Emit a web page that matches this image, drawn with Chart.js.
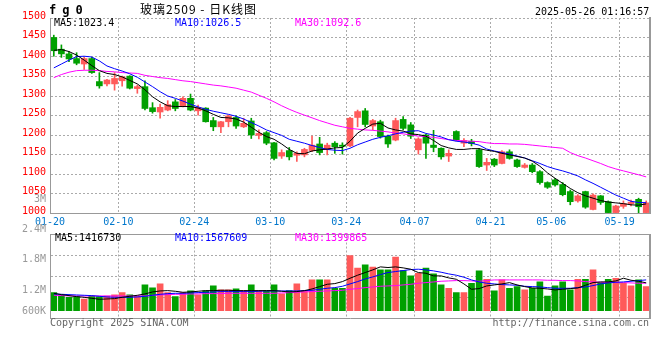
<!DOCTYPE html>
<html><head><meta charset="utf-8">
<script src="https://cdn.jsdelivr.net/npm/chart.js@4.4.1/dist/chart.umd.min.js"></script>
<style>
html,body{margin:0;padding:0;background:#fff;}
#wrap{position:relative;width:660px;height:360px;overflow:hidden;background:#fff;}
canvas{position:absolute;left:0;}
.t{position:absolute;white-space:pre;font-family:"DejaVu Sans Mono",monospace;font-size:10px;line-height:10px;color:#000;}
</style></head><body>
<div id="wrap">
<canvas id="main" width="660" height="232" style="top:0"></canvas>
<canvas id="vol" width="660" height="170" style="top:190px"></canvas>
<div class="t" style="left:49px;top:4px;font-weight:bold;font-size:12px;line-height:12px;letter-spacing:-0.6px;">f g 0</div>
<div class="t" style="left:140px;top:3px;font-family:'Noto Sans CJK SC';font-size:12px;line-height:12px;letter-spacing:1px;">玻璃2509 - 日K线图</div>
<div class="t" style="left:535px;top:7px;">2025-05-26 01:16:57</div>
<div class="t" style="left:50px;top:318px;color:#666;">Copyright 2025 SINA.COM</div>
<div class="t" style="right:11px;top:318px;color:#666;">http://finance.sina.com.cn</div>
</div>
<script>
const dates = ['01-20','01-21','01-22','01-23','01-24','01-27','02-05','02-06','02-07','02-10',
'02-11','02-12','02-13','02-14','02-17','02-18','02-19','02-20','02-21','02-24',
'02-25','02-26','02-27','02-28','03-03','03-04','03-05','03-06','03-07','03-10',
'03-11','03-12','03-13','03-14','03-17','03-18','03-19','03-20','03-21','03-24',
'03-25','03-26','03-27','03-28','03-31','04-01','04-02','04-03','04-07','04-08',
'04-09','04-10','04-11','04-14','04-15','04-16','04-17','04-18','04-21','04-22',
'04-23','04-24','04-25','04-28','04-29','04-30','05-06','05-07','05-08','05-09',
'05-12','05-13','05-14','05-15','05-16','05-19','05-20','05-21','05-22'];
const axisDates = ['01-20','02-10','02-24','03-10','03-24','04-07','04-21','05-06','05-19'];
const priceTicks = [1000,1050,1100,1150,1200,1250,1300,1350,1400,1450,1500];
const volTickValues = [3000000,2400000,1800000,1200000,600000];

const open = [1450,1420,1408,1396,1382,1396,1337,1331,1331,1339, 1351,1319,1324,1270,1259,1264,1285,1274,1294,1262,
1269,1237,1221,1234,1245,1221,1236,1199,1206,1180, 1146,1160,1148,1149,1160,1177,1163,1179,1174,1172,
1245,1262,1223,1234,1197,1187,1240,1226,1162,1200, 1174,1166,1146,1209,1179,1184,1162,1123,1138,1127,
1157,1136,1117,1123,1106,1078,1085,1073,1055,1031, 1055,1009,1044,1029,1001,1017,1024,1035,1001];
const high = [1456,1431,1414,1411,1399,1399,1360,1343,1360,1351, 1352,1328,1339,1283,1279,1288,1291,1298,1305,1277,
1270,1245,1235,1251,1249,1243,1243,1213,1209,1181, 1162,1168,1157,1166,1197,1194,1179,1183,1180,1245,
1264,1268,1240,1238,1200,1243,1247,1232,1193,1202, 1212,1167,1162,1211,1191,1189,1166,1140,1140,1160,
1162,1138,1127,1127,1109,1080,1089,1078,1059,1047, 1056,1049,1045,1031,1020,1031,1033,1038,1031];
const low = [1402,1399,1388,1380,1368,1358,1320,1326,1315,1325, 1318,1307,1264,1256,1243,1262,1262,1272,1262,1251,
1233,1211,1206,1221,1217,1219,1191,1190,1175,1136, 1140,1136,1132,1144,1157,1149,1149,1153,1151,1170,
1221,1221,1213,1192,1168,1185,1213,1191,1151,1140, 1157,1138,1132,1185,1170,1172,1117,1109,1119,1126,
1138,1117,1115,1103,1074,1063,1069,1044,1021,1028, 1012,1008,1022,1000,1000,1012,1018,1000,1000];
const close = [1416,1408,1395,1384,1396,1360,1326,1341,1345,1349, 1320,1324,1268,1260,1271,1278,1268,1294,1264,1270,
1234,1221,1234,1249,1223,1230,1200,1204,1179,1140, 1155,1144,1153,1163,1174,1155,1174,1170,1171,1243,
1260,1227,1237,1196,1177,1237,1217,1197,1190,1179, 1168,1144,1153,1187,1186,1178,1119,1130,1123,1157,
1140,1119,1123,1106,1078,1066,1072,1047,1029,1044, 1015,1046,1027,1001,1018,1024,1028,1016,1026];

const ma5 = [1417,1419,1414,1405,1392,1378,1365,1358,1355,1349, 1340,1331,1316,1298,1285,1275,1273,1273,1273,1269,
1262,1253,1245,1244,1241,1233,1220,1207,1196,1189, 1177,1163,1153,1152,1159,1162,1164,1167,1168,1184,
1205,1217,1228,1230,1218,1213,1210,1203,1201,1197, 1186,1173,1167,1163,1163,1165,1165,1161,1158,1153,
1149,1145,1141,1133,1120,1103,1089,1076,1063,1052, 1044,1038,1032,1028,1026,1024,1021,1020,1023.4];
const ma10 = [1372,1382,1392,1401,1402,1400,1390,1377,1370,1364, 1357,1348,1336,1324,1311,1300,1294,1287,1279,1272,
1266,1261,1257,1253,1248,1241,1232,1223,1213,1206, 1199,1189,1184,1179,1173,1168,1163,1161,1160,1166,
1175,1182,1189,1194,1198,1203,1207,1210,1211,1204, 1200,1195,1188,1184,1182,1179,1174,1164,1159,1155,
1151,1146,1141,1134,1127,1119,1113,1108,1102,1095, 1085,1076,1066,1056,1046,1038,1030,1027,1026.5];
const ma30 = [1347,1355,1361,1365,1366,1366,1365,1363,1362,1360, 1359,1358,1353,1350,1347,1345,1342,1339,1337,1334,
1331,1328,1326,1323,1320,1315,1310,1302,1294,1285, 1275,1266,1258,1251,1244,1237,1231,1225,1221,1217,
1215,1213,1212,1210,1208,1205,1203,1200,1197,1196, 1194,1191,1188,1186,1185,1184,1183,1180,1178,1178,
1177,1177,1176,1174,1172,1170,1168,1166,1155,1147, 1141,1134,1127,1119,1113,1108,1103,1098,1092.6];

const volume = [918000,801000,682000,716000,597000,750000,716000,750000,801000,918000,
801000,750000,1311000,1158000,1362000,918000,716000,918000,1005000,801000,
1005000,1260000,1056000,1056000,1107000,1005000,1311000,1005000,1005000,1311000,
852000,1022000,1362000,1022000,1566000,1566000,1566000,1141000,1141000,2806000,
2163000,2332000,2214000,2077000,2077000,2724000,2043000,1771000,1907000,2163000,
1873000,1311000,1141000,920000,920000,1396000,2026000,1600000,1005000,1566000,
1141000,1226000,1056000,1141000,1464000,750000,1260000,1464000,1056000,1600000,
1600000,2077000,1430000,1600000,1651000,1396000,1260000,1566000,1226000];
const volMa5 = [886000,818000,767000,716000,682000,631000,580000,597000,614000,682000,
733000,784000,852000,954000,1005000,1022000,988000,937000,954000,988000,
1022000,1022000,1039000,1039000,1022000,1022000,1022000,1022000,1022000,1022000,
988000,954000,971000,1022000,1107000,1226000,1345000,1379000,1481000,1651000,
1805000,1941000,2077000,2230000,2196000,2230000,2179000,2111000,1941000,1907000,
1771000,1771000,1669000,1600000,1362000,1090000,1124000,1260000,1311000,1362000,
1430000,1311000,1226000,1158000,1141000,1107000,1056000,1090000,1124000,1158000,
1294000,1430000,1464000,1464000,1515000,1651000,1550000,1498000,1416730];
const volMa10 = [852000,835000,818000,801000,784000,767000,733000,699000,682000,682000,
682000,699000,733000,784000,835000,869000,886000,886000,903000,920000,
937000,954000,971000,971000,971000,971000,971000,988000,1005000,1005000,
1005000,1005000,1005000,1022000,1039000,1090000,1141000,1175000,1243000,1362000,
1481000,1617000,1720000,1839000,1941000,1992000,2043000,2094000,2111000,2077000,
2026000,1958000,1873000,1805000,1703000,1566000,1464000,1396000,1362000,1328000,
1311000,1294000,1243000,1226000,1209000,1175000,1141000,1141000,1141000,1175000,
1209000,1277000,1362000,1413000,1447000,1464000,1498000,1532000,1567609];
const volMa30 = [784000,767000,750000,750000,750000,750000,750000,750000,750000,750000,
750000,750000,750000,784000,801000,818000,835000,835000,852000,852000,
869000,869000,869000,886000,886000,886000,886000,886000,886000,886000,
903000,920000,937000,954000,971000,988000,1005000,1022000,1039000,1090000,
1124000,1175000,1209000,1243000,1260000,1277000,1311000,1345000,1396000,1430000,
1464000,1498000,1515000,1532000,1532000,1515000,1498000,1532000,1566000,1566000,
1566000,1566000,1566000,1566000,1566000,1549000,1549000,1532000,1532000,1515000,
1481000,1464000,1447000,1447000,1430000,1430000,1413000,1396000,1399865];

const UP = '#ff5a5a', DOWN = '#00a000';
const FONT = '"DejaVu Sans Mono", monospace';
Chart.defaults.font.family = FONT;
Chart.defaults.font.size = 10;

const N = dates.length;
const axisSet = new Set(axisDates);
const barColors = dates.map((d, i) => close[i] >= open[i] ? UP : DOWN);
const gridColor = ctx => (ctx.tick && axisSet.has(dates[ctx.index])) ? '#aaaaaa' : 'rgba(0,0,0,0)';
const halfCat = -300 / N;

const rightBorder = {
  position: 'right', min: 0, max: 1,
  grid: { display: false, drawTicks: false },
  ticks: { display: false },
  border: { display: true, color: '#999', width: 2, z: 1 },
  afterFit: s => { s.width = 10; }
};

new Chart(document.getElementById('main'), {
  type: 'bar',
  data: {
    labels: dates,
    datasets: [
      { type: 'line', data: ma5, borderColor: '#000', borderWidth: 1, pointRadius: 0, order: 0, yAxisID: 'y' },
      { type: 'line', data: ma10, borderColor: '#0000ff', borderWidth: 1, pointRadius: 0, order: 0, yAxisID: 'y' },
      { type: 'line', data: ma30, borderColor: '#ff00ff', borderWidth: 1, pointRadius: 0, order: 0, yAxisID: 'y' },
      { data: dates.map((d, i) => [open[i], close[i]]), backgroundColor: barColors, barThickness: 6, grouped: false, order: 1, yAxisID: 'y' },
      { data: dates.map((d, i) => [low[i], high[i]]), backgroundColor: barColors, barThickness: 1, grouped: false, order: 2, yAxisID: 'y' }
    ]
  },
  options: {
    responsive: false, animation: false, devicePixelRatio: 1,
    layout: { padding: { top: 18, left: 0, right: 0, bottom: 0 } },
    plugins: { legend: { display: false }, tooltip: { enabled: false } },
    scales: {
      x: {
        type: 'category', offset: true,
        grid: { offset: true, color: gridColor, drawTicks: false },
        border: { display: true, color: '#999', dash: [2, 2], z: 1 },
        ticks: { autoSkip: false, maxRotation: 0, minRotation: 0, color: '#0077cc', padding: 3, labelOffset: halfCat,
          callback: (v, i) => axisSet.has(dates[i]) ? dates[i] : '' },
        afterFit: s => { s.height = 19; }
      },
      y: {
        position: 'left', min: priceTicks[0], max: priceTicks[priceTicks.length - 1],
        afterBuildTicks: s => { s.ticks = priceTicks.map(v => ({ value: v })); },
        grid: { color: '#aaaaaa', drawTicks: false },
        border: { display: true, color: '#999', dash: [2, 2], z: 1 },
        ticks: { color: '#ff0000', padding: 4, labelOffset: -2, callback: v => String(v) },
        afterFit: s => { s.width = 50; }
      },
      yR: rightBorder
    }
  },
  plugins: [{
    id: 'maText',
    afterDraw(c) {
      const ctx = c.ctx, a = c.chartArea;
      ctx.save();
      ctx.font = '10px ' + FONT; ctx.textBaseline = 'middle'; ctx.textAlign = 'left';
      [['MA5:' + ma5[N - 1].toFixed(1), '#000', 54], ['MA10:' + ma10[N - 1].toFixed(1), '#0000ff', 175], ['MA30:' + ma30[N - 1].toFixed(1), '#ff00ff', 295]]
        .forEach(([t, col, x]) => { ctx.fillStyle = col; ctx.fillText(t, x, a.top + 5.5); });
      ctx.restore();
    }
  }]
});

const fmtVol = v => v >= 1000000 ? (v / 1000000) + 'M' : (v / 1000) + 'K';

new Chart(document.getElementById('vol'), {
  type: 'bar',
  data: {
    labels: dates,
    datasets: [
      { type: 'line', data: volMa5, borderColor: '#000', borderWidth: 1, pointRadius: 0, order: 0, yAxisID: 'y' },
      { type: 'line', data: volMa10, borderColor: '#0000ff', borderWidth: 1, pointRadius: 0, order: 0, yAxisID: 'y' },
      { type: 'line', data: volMa30, borderColor: '#ff00ff', borderWidth: 1, pointRadius: 0, order: 0, yAxisID: 'y' },
      { data: volume, backgroundColor: barColors, barThickness: 6, grouped: false, order: 1, yAxisID: 'y' }
    ]
  },
  options: {
    responsive: false, animation: false, devicePixelRatio: 1,
    layout: { padding: { top: 44.5, left: 0, right: 0, bottom: 42 } },
    plugins: { legend: { display: false }, tooltip: { enabled: false } },
    scales: {
      x: {
        type: 'category', offset: true,
        grid: { offset: true, color: gridColor, drawTicks: false },
        border: { display: true, color: '#999', dash: [2, 2], z: 1 },
        ticks: { display: false, autoSkip: false },
        afterFit: s => { s.height = 0; }
      },
      xT: {
        type: 'category', position: 'top', offset: true,
        grid: { display: false, drawTicks: false },
        ticks: { display: false },
        border: { display: true, color: '#999', z: 1 },
        afterFit: s => { s.height = 0; }
      },
      y: {
        position: 'left', min: -372000, max: 3878000,
        afterBuildTicks: s => { const d = (s.max - s.min) / 4; s.ticks = [0, 1, 2, 3, 4].map(k => ({ value: s.min + k * d })); },
        grid: { color: '#aaaaaa', drawTicks: false },
        border: { display: true, color: '#999', dash: [2, 2], z: 1 },
        ticks: { display: false },
        afterFit: s => { s.width = 50; }
      },
      yl: { display: false, position: 'left', min: 640000, max: 2306000 },
      yR: rightBorder
    }
  },
  plugins: [{
    id: 'volText',
    afterDraw(c) {
      const ctx = c.ctx, a = c.chartArea, s = c.scales.yl;
      ctx.save();
      ctx.font = '10px ' + FONT; ctx.textBaseline = 'middle';
      ctx.textAlign = 'right'; ctx.fillStyle = '#999';
      volTickValues.forEach(v => {
        const y = Math.min(s.getPixelForValue(v), a.bottom - 7);
        ctx.fillText(fmtVol(v), 46, y);
      });
      ctx.textAlign = 'left';
      [['MA5:' + volMa5[N - 1], '#000', 55], ['MA10:' + volMa10[N - 1], '#0000ff', 175], ['MA30:' + volMa30[N - 1], '#ff00ff', 295]]
        .forEach(([t, col, x]) => { ctx.fillStyle = col; ctx.fillText(t, x, a.top + 4); });
      ctx.restore();
    }
  }]
});
</script>
</body></html>
